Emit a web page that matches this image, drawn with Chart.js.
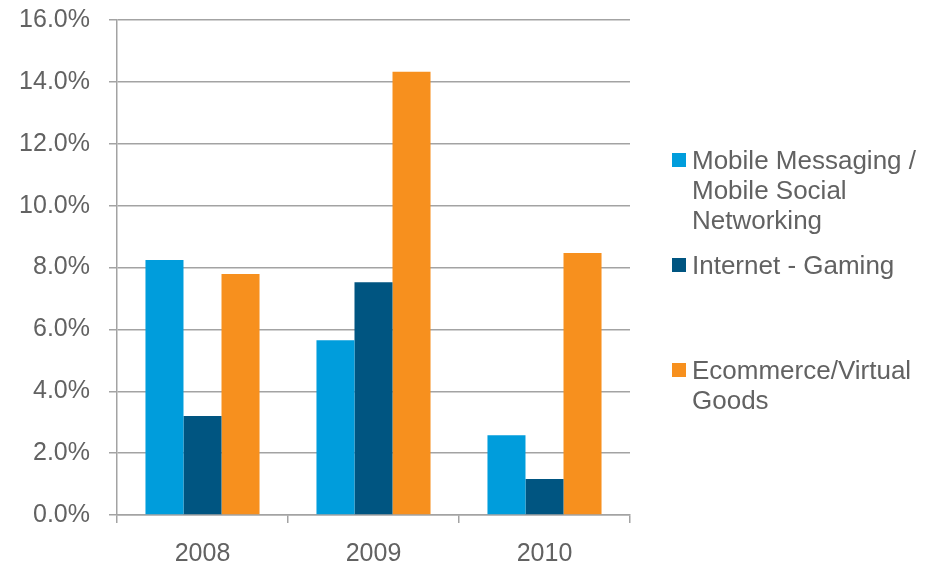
<!DOCTYPE html>
<html lang="en">
<head>
    <meta charset="UTF-8">
    <title>Growth by Segment</title>
    <script src="https://cdn.jsdelivr.net/npm/chart.js"></script>
    <style>
        body {
            margin: 0;
            background: #fff;
            font-family: "Liberation Sans", Arial, sans-serif;
        }

        .wrap {
            position: relative;
            width: 925px;
            height: 568px;
        }

        .legend-item {
            position: absolute;
            left: 672px;
            color: #626262;
            font-size: 26px;
            line-height: 30px;
        }

        .legend-item .box {
            position: absolute;
            left: 0;
            top: 8px;
            width: 14px;
            height: 14px;
        }

        .legend-item .txt {
            margin-left: 20px;
            white-space: nowrap;
        }
    </style>
</head>
<body>
    <div class="wrap">
        <canvas id="chart" width="925" height="568"></canvas>
        <div id="legend"></div>
    </div>

    <script>
        // data
        const years = ['2008', '2009', '2010'];
        const mobileMessaging = [8.24, 5.65, 2.58];
        const internetGaming = [3.20, 7.52, 1.16];
        const ecommerce = [7.79, 14.33, 8.47];

        const seriesNames = [
            ['Mobile Messaging /', 'Mobile Social', 'Networking'],
            ['Internet - Gaming'],
            ['Ecommerce/Virtual', 'Goods']
        ];
        const seriesColors = ['#009ddc', '#005581', '#f7901e'];
        const legendTops = [145, 250, 355];

        const gridColor = '#a3a3a3';
        const textColor = '#626262';

        const ctx = document.getElementById('chart').getContext('2d');
        const chart = new Chart(ctx, {
            type: 'bar',
            data: {
                labels: years,
                datasets: [mobileMessaging, internetGaming, ecommerce].map((vals, i) => ({
                    label: seriesNames[i].join(' '),
                    data: vals,
                    backgroundColor: seriesColors[i],
                    categoryPercentage: 0.667,
                    barPercentage: 1.0
                }))
            },
            options: {
                responsive: false,
                animation: false,
                layout: {
                    padding: { top: 20, right: 295, left: 0, bottom: 0 }
                },
                plugins: {
                    legend: { display: false },
                    tooltip: { enabled: false }
                },
                scales: {
                    x: {
                        grid: {
                            offset: true,
                            drawOnChartArea: false,
                            drawTicks: true,
                            tickLength: 8,
                            color: gridColor,
                            lineWidth: 1.5
                        },
                        border: { color: gridColor, width: 1.5 },
                        ticks: {
                            color: textColor,
                            padding: 16,
                            font: { family: 'Liberation Sans', size: 25 }
                        },
                        afterFit: (scale) => { scale.height = 53; }
                    },
                    y: {
                        min: 0,
                        max: 16,
                        ticks: {
                            stepSize: 2,
                            color: textColor,
                            padding: 19,
                            font: { family: 'Liberation Sans', size: 25 },
                            callback: (v) => v.toFixed(1) + '%'
                        },
                        grid: {
                            color: gridColor,
                            lineWidth: 1.5,
                            tickLength: 8
                        },
                        border: { color: gridColor, width: 1.5 },
                        afterFit: (scale) => {
                            scale.width = 117;
                            // let the layout padding alone decide the top edge
                            scale.paddingTop = 0;
                            scale.paddingBottom = 0;
                        }
                    }
                }
            }
        });

        // legend on the right
        const legend = document.getElementById('legend');
        seriesNames.forEach((lines, i) => {
            const item = document.createElement('div');
            item.className = 'legend-item';
            item.style.top = legendTops[i] + 'px';
            const box = document.createElement('span');
            box.className = 'box';
            box.style.background = seriesColors[i];
            const txt = document.createElement('div');
            txt.className = 'txt';
            txt.innerHTML = lines.join('<br>');
            item.appendChild(box);
            item.appendChild(txt);
            legend.appendChild(item);
        });
    </script>
</body>
</html>
